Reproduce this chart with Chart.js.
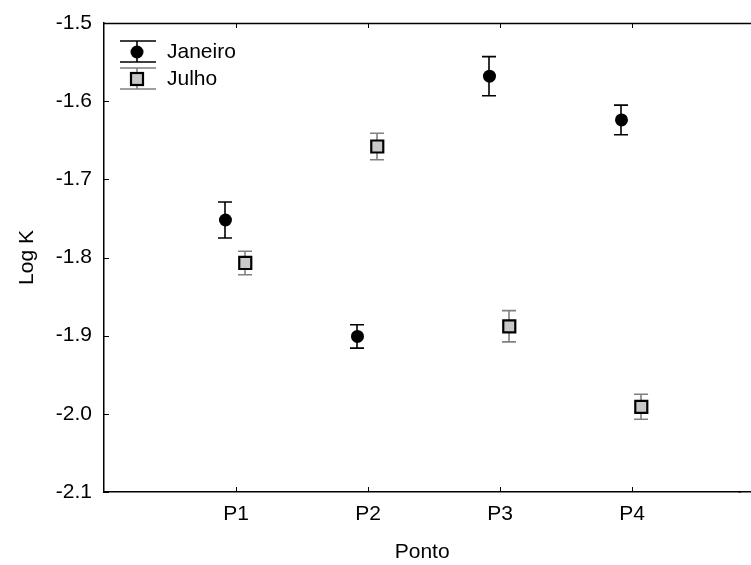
<!DOCTYPE html>
<html><head><meta charset="utf-8">
<script src="https://cdn.jsdelivr.net/npm/chart.js@4.4.1/dist/chart.umd.min.js"></script>
<style>html,body{margin:0;padding:0;background:#fff}#wrap{width:751px;height:565px}</style>
</head><body><div id="wrap"><canvas id="c" width="751" height="565"></canvas></div>
<script>
const categories = ['P1','P2','P3','P4'];
const janeiroMean = [-1.752, -1.901, -1.568, -1.624];
const janeiroErr  = [0.023, 0.015, 0.025, 0.019];
const julhoMean   = [-1.807, -1.658, -1.888, -1.991];
const julhoErr    = [0.015, 0.017, 0.020, 0.016];
const yTicks = [-2.1, -2.0, -1.9, -1.8, -1.7, -1.6, -1.5];
const seriesNames = ['Janeiro', 'Julho'];

const FONT = 'Liberation Sans, Arial, sans-serif';
const FS = 21;
const offJ = -0.08, offL = 0.07;

const mk = (means, errs, off) => means.map((m,i)=>({x:i+1+off, y:m, e:errs[i]}));

const errPlugin = {
  id:'errbars',
  beforeDatasetsDraw(chart){
    const {ctx, scales:{x,y}} = chart;
    chart.data.datasets.forEach(ds=>{
      ctx.save();
      ctx.strokeStyle = ds.errColor; ctx.lineWidth = 1.6;
      ds.data.forEach(p=>{
        const px = Math.round(x.getPixelForValue(p.x));
        const t = y.getPixelForValue(p.y + p.e), b = y.getPixelForValue(p.y - p.e);
        ctx.beginPath();
        ctx.moveTo(px,t); ctx.lineTo(px,b);
        ctx.moveTo(px-7,t); ctx.lineTo(px+7,t);
        ctx.moveTo(px-7,b); ctx.lineTo(px+7,b);
        ctx.stroke();
      });
      ctx.restore();
    });
  },
  afterDraw(chart){
    const {ctx, chartArea:a, scales:{x,y}} = chart;
    ctx.save();
    ctx.strokeStyle = '#000'; ctx.lineWidth = 1.5;
    const by = Math.round(a.bottom - 0.75) + 0.75;
    ctx.beginPath();
    ctx.moveTo(a.left, a.top+0.5); ctx.lineTo(chart.width, a.top+0.5);
    ctx.moveTo(a.right-2, by); ctx.lineTo(chart.width, by);
    ctx.stroke();
    ctx.lineWidth = 1;
    ctx.beginPath();
    yTicks.forEach(v=>{ const py = Math.round(y.getPixelForValue(v))+0.5; ctx.moveTo(a.left, py); ctx.lineTo(a.left+5, py); });
    categories.forEach((c,i)=>{ const px = Math.round(x.getPixelForValue(i+1))+0.5;
      ctx.moveTo(px, a.bottom); ctx.lineTo(px, a.bottom-5);
      ctx.moveTo(px, a.top); ctx.lineTo(px, a.top+5); });
    ctx.stroke();
    const items = [
      {name:seriesNames[0], cy:52, col:'#000', pt:'circle'},
      {name:seriesNames[1], cy:79, col:'#808080', pt:'rect'}
    ];
    items.forEach(it=>{
      const cx = 137;
      ctx.strokeStyle = it.col; ctx.lineWidth = 1.6;
      ctx.beginPath();
      ctx.moveTo(120, it.cy-11); ctx.lineTo(156, it.cy-11);
      ctx.moveTo(120, it.cy+10); ctx.lineTo(156, it.cy+10);
      ctx.moveTo(cx, it.cy-11); ctx.lineTo(cx, it.cy+10);
      ctx.stroke();
      if (it.pt==='circle'){
        ctx.fillStyle='#000'; ctx.beginPath(); ctx.arc(cx,it.cy,6.5,0,Math.PI*2); ctx.fill();
      } else {
        ctx.fillStyle='#c8c8c8'; ctx.fillRect(cx-6,it.cy-6,12,12);
        ctx.strokeStyle='#000'; ctx.lineWidth=2.2; ctx.strokeRect(cx-6,it.cy-6,12,12);
      }
      ctx.fillStyle='#000'; ctx.font = FS+'px '+FONT; ctx.textBaseline='middle'; ctx.textAlign='left';
      ctx.fillText(it.name, 167, it.cy);
    });
    ctx.restore();
  }
};

new Chart(document.getElementById('c'), {
  type:'scatter',
  data:{ datasets:[
    {label:seriesNames[0], data:mk(janeiroMean, janeiroErr, offJ), pointStyle:'circle', pointRadius:6.5,
     backgroundColor:'#000', borderColor:'#000', borderWidth:0, errColor:'#000'},
    {label:seriesNames[1], data:mk(julhoMean, julhoErr, offL), pointStyle:'rect', pointRadius:8.5,
     backgroundColor:'#c8c8c8', borderColor:'#000', borderWidth:2.2, errColor:'#808080'}
  ]},
  options:{
    responsive:false, animation:false,
    layout:{padding:{top:23, right:0, left:0, bottom:0}},
    plugins:{legend:{display:false}, tooltip:{enabled:false}},
    scales:{
      x:{type:'linear', min:0, max:4.82,
        afterBuildTicks(ax){ ax.ticks = categories.map((c,i)=>({value:i+1})); },
        afterFit(ax){ ax.height = 73; ax.paddingRight = 0; ax.paddingLeft = 0; },
        grid:{display:false, drawTicks:false},
        border:{display:true, color:'#000', width:1.5},
        ticks:{color:'#000', font:{family:FONT, size:FS}, padding:10, autoSkip:false, maxRotation:0,
          callback:(v)=>categories[Math.round(v)-1] || ''},
        title:{display:true, text:'Ponto', color:'#000', font:{family:FONT, size:FS}, padding:{top:4, bottom:0}}
      },
      y:{type:'linear', min:-2.1, max:-1.5,
        afterBuildTicks(ax){ ax.ticks = yTicks.map(v=>({value:v})); },
        afterFit(ax){ ax.width = 104; ax.paddingTop = 0; ax.paddingBottom = 0; },
        grid:{display:false, drawTicks:false},
        border:{display:true, color:'#000', width:1.5},
        ticks:{color:'#000', font:{family:FONT, size:FS}, padding:12, callback:(v)=>v.toFixed(1)},
        title:{display:true, text:'Log K', color:'#000', font:{family:FONT, size:FS}, padding:{top:15, bottom:15}}
      }
    }
  },
  plugins:[errPlugin]
});
</script></body></html>
